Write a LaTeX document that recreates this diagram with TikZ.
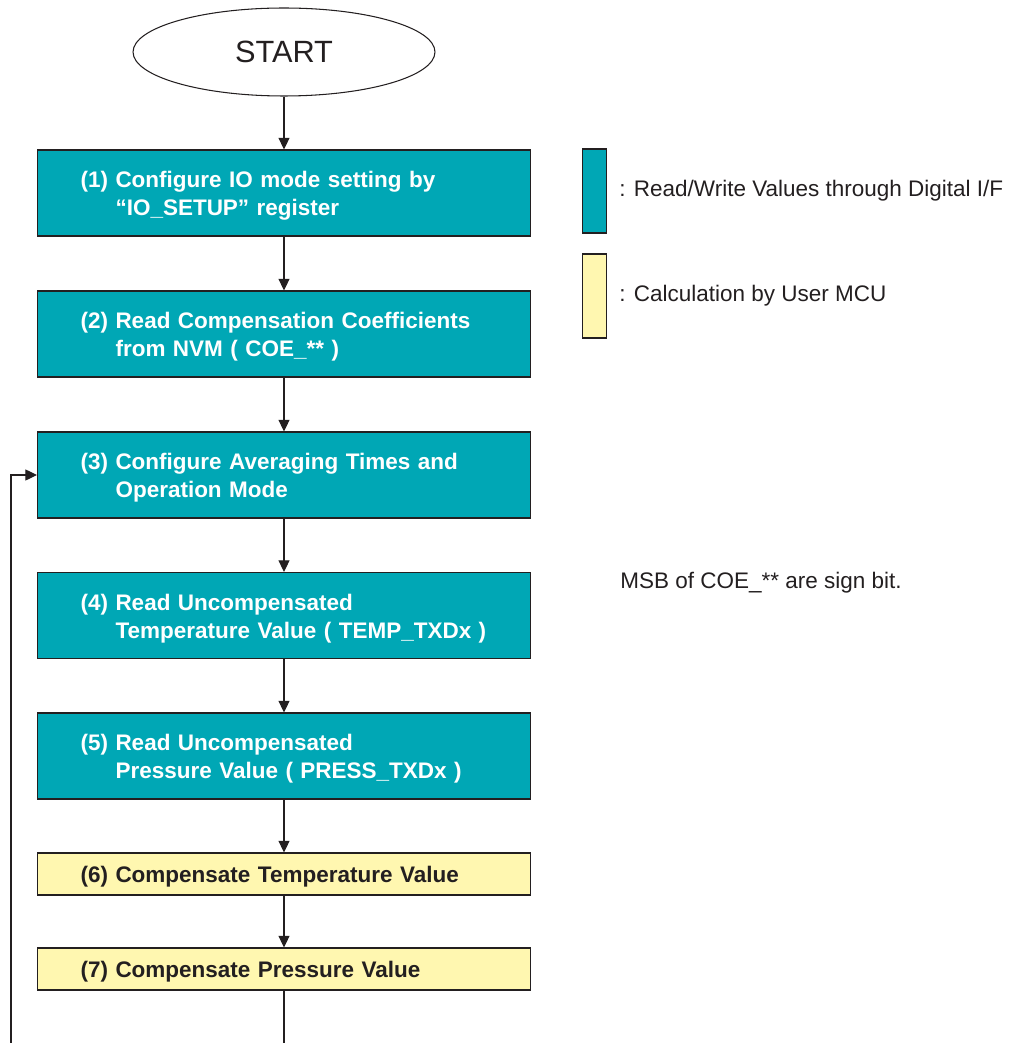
\documentclass[tikz,border=0pt]{standalone}
\usepackage{fontspec}
\setmainfont{Liberation Sans}
\usetikzlibrary{shapes.geometric,arrows.meta,positioning}
\definecolor{ioteal}{RGB}{0,167,181}
\definecolor{calcyellow}{RGB}{255,247,176}
\definecolor{inkgray}{RGB}{35,31,32}

\begin{document}
\begin{tikzpicture}[x=0.02cm, y=-0.02cm]
	\tikzstyle{every node} = [font=\fontsize{12.8}{15.9}\selectfont, text=inkgray]
	\tikzstyle{readbox} = [rectangle, draw=inkgray, line width=0.7pt, fill=ioteal, text=white, font=\fontsize{12.8}{15.9}\selectfont\bfseries, text width=8.14cm, inner xsep=0.86cm, inner ysep=0pt, text depth=15.2pt, align=left, minimum height=1.72cm]
	\tikzstyle{calcbox} = [readbox, fill=calcyellow, text=inkgray, text depth=0pt, minimum height=0.84cm]
	\tikzstyle{legendbox} = [rectangle, draw=inkgray, line width=0.7pt, minimum width=0.48cm, minimum height=1.68cm, inner sep=0pt]
	\tikzstyle{flow} = [draw=inkgray, line width=0.6pt, -{Triangle[length=2.3mm, width=2.2mm]}]
\useasboundingbox (0,0) rectangle (1009,1043);
\clip (0,0) rectangle (1009,1043);
\node[ellipse, draw=inkgray, line width=0.6pt, minimum width=6.04cm, minimum height=1.76cm, inner sep=0pt, font=\fontsize{17.5}{20}\selectfont] (0) at (284,52) {START};
\node[readbox] (1) at (284,193) {(1) Configure IO mode setting by\\\phantom{(1) }``IO\_SETUP'' register};
\node[readbox] (2) at (284,334) {(2) Read Compensation Coefficients\\\phantom{(2) }from NVM ( COE\_** )};
\node[readbox] (3) at (284,475) {(3) Configure Averaging Times and\\\phantom{(3) }Operation Mode};
\node[readbox] (4) at (284,615.5) {(4) Read Uncompensated\\\phantom{(4) }Temperature Value ( TEMP\_TXDx )};
\node[readbox] (5) at (284,756) {(5) Read Uncompensated\\\phantom{(5) }Pressure Value ( PRESS\_TXDx )};
\node[calcbox] (6) at (284,874) {(6) Compensate Temperature Value};
\node[calcbox] (7) at (284,969) {(7) Compensate Pressure Value};
\node[legendbox, fill=ioteal] (8) at (594.5,191) {};
\node[legendbox, fill=calcyellow] (9) at (594.5,296) {};
\node[anchor=west, inner sep=0pt] (10) at (619,191) {: Read/Write Values through Digital I/F};
\node[anchor=west, inner sep=0pt] (11) at (619,296) {: Calculation by User MCU};
\node[anchor=west, inner sep=0pt] (12) at (620,583) {MSB of COE\_** are sign bit.};
	\path[flow] (0) -- (1);
	\path[flow] (1) -- (2);
	\path[flow] (2) -- (3);
	\path[flow] (3) -- (4);
	\path[flow] (4) -- (5);
	\path[flow] (5) -- (6);
	\path[flow] (6) -- (7);
	\path[flow] (7) |- (11,1070) |- (3);
\end{tikzpicture}
\end{document}
